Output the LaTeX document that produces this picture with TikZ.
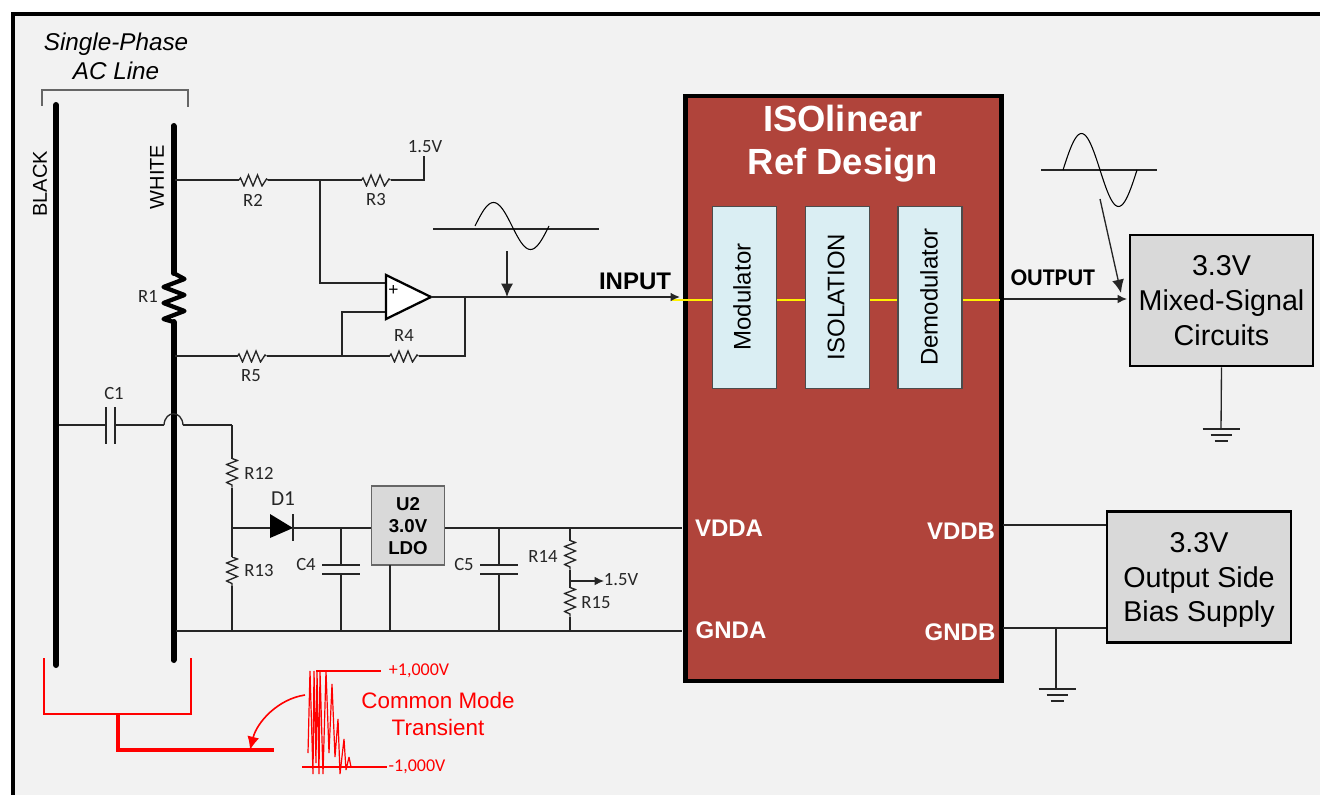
\documentclass[tikz,border=0pt]{standalone}
\usepackage{fontspec}
\setmainfont{Liberation Sans}
\newfontfamily\calfont{Carlito}
\usepackage{xcolor}
\usetikzlibrary{arrows.meta}
\definecolor{isored}{HTML}{B0443B}
\definecolor{isoblue}{HTML}{DAEEF3}
\definecolor{boxgray}{HTML}{D9D9D9}
\definecolor{panelgray}{HTML}{F2F2F2}
\begin{document}
\begin{tikzpicture}[
x=0.75pt, y=-0.75pt,
wire/.style={line width=1pt,color=black!85},
line/.style={line width=4.5pt,line cap=round},
tipwire/.style={wire,-{Latex[length=7pt,width=6.5pt]}},
bigtip/.style={wire,-{Latex[length=10pt,width=9pt]}},
redwire/.style={line width=1.2pt,color=red},
reswide/.style={minimum width=29*0.75pt,minimum height=13*0.75pt,inner sep=0pt,outer sep=0pt,
	path picture={\draw[wire] (path picture bounding box.west) -- ++(1.5,-2) -- ++(3.5,8) -- ++(4.5,-11) -- ++(4.5,11) -- ++(4.5,-11) -- ++(4.5,11) -- ++(4.5,-7) -- (path picture bounding box.east);}},
restall/.style={minimum width=13*0.75pt,minimum height=29*0.75pt,inner sep=0pt,outer sep=0pt,
	path picture={\draw[wire] (path picture bounding box.north) -- ++(5.5,2) -- ++(-11,4) -- ++(11,4.5) -- ++(-11,4.5) -- ++(11,4.5) -- ++(-11,4.5) -- ++(5.5,2.5) -- (path picture bounding box.south);}},
lab/.style={font=\calfont\fontsize{14}{14}\selectfont,text=black!85,inner sep=0pt},
pin/.style={font=\bfseries\fontsize{18}{18}\selectfont,text=white,inner sep=0pt},
block/.style={draw=black,line width=1.9pt,fill=boxgray,align=center,inner sep=0pt,text depth=0pt,font=\fontsize{21.5}{26}\selectfont},
stage/.style={draw=black!70,line width=0.8pt,fill=isoblue,minimum width=64*0.75pt,minimum height=182*0.75pt,inner sep=0pt},
stagetext/.style={rotate=90,font=\fontsize{18}{18}\selectfont,inner sep=0pt},
redtext/.style={text=red,inner sep=0pt,align=center}
]
\useasboundingbox (0,0) rectangle (1320,795);
\clip (0,0) rectangle (1320,795);
\draw[line width=3.2pt,fill=panelgray] (13,14) rectangle (1340,815);

% AC line
\node (singlephase) at (116,56) [align=center,inner sep=0pt,font=\itshape\fontsize{18.2}{22}\selectfont] {Single-Phase\\AC Line};
\draw[line width=0.9pt,color=black!60] (42,106) -- (42,90) -- (188,90) -- (188,107);
\coordinate (blacktop) at (56,105);
\coordinate (blackbot) at (56,665);
\coordinate (whitetop) at (173.5,126);
\coordinate (whitebot) at (173.5,660);
\coordinate (rone) at (173.5,273);
\coordinate (ronebot) at (173.5,322);
\draw[line] (blacktop) -- (blackbot);
\draw[line] (rone) -- (whitetop);
\draw[line] (ronebot) -- (whitebot);
\draw[line width=3.2pt,line join=round] (rone) -- ++(11,6) -- ++(-21,8) -- ++(21,8) -- ++(-21,8) -- ++(21,8) -- ++(-21,8) -- (ronebot);
\node (blacklab) at (40,184) [rotate=90,inner sep=0pt,font=\fontsize{15}{15}\selectfont] {BLACK};
\node (whitelab) at (157,177) [rotate=90,inner sep=0pt,font=\fontsize{15}{15}\selectfont] {WHITE};
\node (ronelab) at (148,296) [lab] {R1};

% input network
\coordinate (wtwo) at (175,180);
\coordinate (wfive) at (175,356);
\coordinate (plusjoin) at (320,180);
\coordinate (fbjoin) at (342,356);
\coordinate (vref) at (424,156);
\coordinate (opout) at (431,297);
\coordinate (fbout) at (465,297);
\node (rtwo) at (253.5,180) [reswide] {};
\node (rthree) at (376,180) [reswide] {};
\node (rfive) at (252,356) [reswide] {};
\node (rfour) at (404,356) [reswide] {};
\node (rtwolab) at (253,200) [lab] {R2};
\node (rthreelab) at (376,200) [lab] {R3};
\node (rfourlab) at (404,336) [lab] {R4};
\node (rfivelab) at (251,376) [lab] {R5};
\node (vreflab) at (425,147) [lab] {1.5V};
\draw[wire] (wtwo) -- (rtwo.west);
\draw[wire] (rtwo.east) -- (rthree.west);
\draw[wire] (rthree.east) -| (vref);
\draw[wire] (wfive) -- (rfive.west);
\draw[wire] (rfive.east) -- (rfour.west);
\draw[wire] (rfour.east) -| (fbout);
\coordinate (opplus) at (386,283);
\coordinate (opminus) at (386,312);
\draw[wire] (plusjoin) |- (opplus);
\draw[wire] (fbjoin) |- (opminus);
\draw[line width=1.7pt,fill=white,line join=miter] (386,275) -- (opout) -- (386,319) -- cycle;
\node (opsign) at (393.5,290) [inner sep=0pt,font=\fontsize{13}{13}\selectfont] {+};

% isolator
\node (iso) at (843.5,388.5) [draw=black,line width=3.2pt,fill=isored,minimum width=316*0.75pt,minimum height=585*0.75pt,inner sep=0pt] {};
\coordinate (yelin) at (672,300);
\coordinate (yelout) at (1000,300);
\draw[line width=0.8pt,color=yellow] (yelin) -- (yelout);
\node (isotitle) at (843,144) [align=center,inner sep=0pt,text=white,font=\bfseries\fontsize{27.3}{32}\selectfont] {ISOlinear\\Ref Design};
\node (modbox) at (744.5,297.5) [stage] {};
\node (isobox) at (837.5,297.5) [stage] {};
\node (dembox) at (930,297.5) [stage] {};
\node (modlab) at (742,297) [stagetext] {Modulator};
\node (isolab) at (836,297) [stagetext] {ISOLATION};
\node (demlab) at (929,297) [stagetext] {Demodulator};
\node (vdda) at (729,528) [pin] {VDDA};
\node (gnda) at (731,630) [pin] {GNDA};
\node (vddb) at (961,531) [pin] {VDDB};
\node (gndb) at (960,632) [pin] {GNDB};

% input signal
\coordinate (inend) at (680,297);
\draw[tipwire,line width=1.3pt] (opout) -- (inend);
\node (inputlab) at (635,281) [inner sep=0pt,font=\bfseries\fontsize{18}{18}\selectfont] {INPUT};
\coordinate (insinea) at (433,229);
\coordinate (insineb) at (599,229);
\coordinate (intip) at (507,297);
\coordinate (intail) at (507,251);
\draw[wire] (insinea) -- (insineb);
\draw[line width=0.8pt] plot[domain=0:360,samples=49,smooth] ({475+\x/360*74},{226-23.5*sin(\x)});
\draw[bigtip] (intail) -- (intip);

% output side
\node (mixed) at (1221.5,300.5) [block,minimum width=183*0.75pt,minimum height=131*0.75pt] {3.3V\\Mixed-Signal\\Circuits};
\node (bias) at (1199,577) [block,minimum width=184*0.75pt,minimum height=131*0.75pt] {3.3V\\Output Side\\Bias Supply};
\node (outputlab) at (1053,278) [inner sep=0pt,font=\calfont\bfseries\fontsize{18}{18}\selectfont] {OUTPUT};
\coordinate (outstart) at (1004,299);
\coordinate (outend) at (1127,299);
\draw[tipwire] (outstart) -- (outend);
\coordinate (outsinea) at (1041,170);
\coordinate (outsineb) at (1157,170);
\coordinate (outtail) at (1100,199);
\coordinate (outtip) at (1121,293);
\draw[wire] (outsinea) -- (outsineb);
\draw[line width=0.8pt] plot[domain=0:360,samples=49,smooth] ({1063+\x/360*74},{170-36.5*sin(\x)});
\draw[bigtip] (outtail) -- (outtip);
\coordinate (gndmixed) at (1221,429);
\coordinate (gndbias) at (1057,689);
\draw[wire] (mixed.south) -- (gndmixed);
\draw[wire] (gndmixed) ++(-18.5,0) -- ++(37,0) ++(-29,6) -- ++(21,0) ++(-17,6) -- ++(13,0);
\draw[wire] (gndbias) ++(-18.5,0) -- ++(37,0) ++(-29,6) -- ++(21,0) ++(-17,6) -- ++(13,0);
\coordinate (vddbout) at (1003,525);
\coordinate (gndbout) at (1003,628);
\coordinate (gndjoin) at (1056,628);
\coordinate (biasv) at (bias.west |- vddbout);
\coordinate (biasg) at (bias.west |- gndbout);
\draw[wire] (vddbout) -- (biasv);
\draw[wire] (gndbout) -- (biasg);
\draw[wire] (gndjoin) -- (gndbias -| gndjoin);

% supply
\coordinate (conea) at (59,425);
\coordinate (coneb) at (164,425);
\coordinate (conec) at (183,425);
\coordinate (rtop) at (232,425);
\coordinate (djoin) at (232,528);
\coordinate (gleft) at (176,631);
\coordinate (gright) at (682,631);
\coordinate (vright) at (682,528);
\draw[wire] (conea) -- (106,425);
\draw[wire] (115,425) -- (coneb);
\draw[wire] (106,407) -- (106,444);
\draw[wire] (115,407) -- (115,444);
\draw[wire] (coneb) .. controls (165,410) and (182,410) .. (conec);
\draw[wire] (conec) -- (rtop);
\node (conelab) at (114,394) [lab] {C1};
\node (rtwelve) at (232,473) [restall] {};
\node (rthirteen) at (232,571.5) [restall] {};
\node (rtwelvelab) at (259,473) [lab] {R12};
\node (rthirteenlab) at (259,571) [lab] {R13};
\draw[wire] (rtop) -- (rtwelve.north);
\draw[wire] (rtwelve.south) -- (rthirteen.north);
\draw[wire] (rthirteen.south) -- (232,631);
\draw[wire] (gleft) -- (gright);
\coordinate (dan) at (270,528);
\coordinate (dca) at (293,528);
\draw[wire] (djoin) -- (dan);
\fill (270,514) -- (dca) -- (270,538) -- cycle;
\draw[wire] (293,514) -- (293,541);
\node (donelab) at (283,499) [lab,font=\calfont\fontsize{16}{16}\selectfont] {D1};
\node (ldo) at (408,525.5) [block,draw=black!60,line width=0.8pt,minimum width=73*0.75pt,minimum height=79*0.75pt,font=\bfseries\fontsize{14}{16.5}\selectfont] {U2\\3.0V\\LDO};
\coordinate (ldogate) at (390,565);
\draw[wire] (dca) -- (ldo.west |- dca);
\draw[wire] (ldo.east |- vright) -- (vright);
\draw[wire] (ldogate) -- (390,631);
\foreach \capx/\capname in {341/C4,499/C5} {
	\draw[wire] (\capx,528) -- (\capx,565);
	\draw[wire] (\capx,574) -- (\capx,631);
	\draw[wire] (\capx-19,565) -- ++(38,0);
	\draw[wire] (\capx-19,574) -- ++(38,0);
	\node (lab\capname) at (\capx-35,565) [lab] {\capname};
}
\node (rfourteen) at (570,555) [restall] {};
\node (rfifteen) at (570,602) [restall] {};
\node (rfourteenlab) at (543,556) [lab] {R14};
\node (rfifteenlab) at (596,603) [lab] {R15};
\coordinate (dividertop) at (570,528);
\coordinate (dividerbot) at (570,631);
\coordinate (dividermid) at (570,581);
\coordinate (dividertip) at (604,581);
\draw[wire] (dividertop) -- (rfourteen.north);
\draw[wire] (rfourteen.south) -- (rfifteen.north);
\draw[wire] (rfifteen.south) -- (dividerbot);
\draw[tipwire] (dividermid) -- (dividertip);
\node (dividerlab) at (621,580) [lab] {1.5V};

% common mode transient
\coordinate (clampa) at (44,658);
\coordinate (clampb) at (191,658);
\coordinate (clampjoin) at (118,714);
\coordinate (railend) at (274,750);
\draw[redwire] (clampa) |- (clampb |- clampjoin) -- (clampb);
\draw[red,line width=2.4pt,line join=miter] (clampjoin) |- (railend);
\coordinate (waveleft) at (305,695);
\coordinate (wavetip) at (250,750);
\draw[redwire,-{Latex[length=10pt,width=9pt]}] (waveleft) .. controls (278,699) and (257,722) .. (wavetip);
\draw[red,line width=0.9pt,line join=bevel] (308,753) -- (310,671) -- (313,774) -- (314,671) -- (316,763) -- (317,671) -- (319,774) -- (320,671) -- (323,774) -- (326,671) -- (329,753) -- (332,684) -- (335,757) -- (338,719) -- (340,774) -- (344,739) -- (346,770) -- (349,757) -- (351,767);
\coordinate (topa) at (316,671);
\coordinate (topb) at (381,671);
\coordinate (bota) at (302,767);
\coordinate (botb) at (387,767);
\draw[red,line width=1.5pt] (topa) -- (topb);
\draw[redwire] (bota) -- (botb);
\node (pluslab) at (419,671) [redtext,font=\calfont\fontsize{13.5}{13.5}\selectfont] {+1,000V};
\node (minuslab) at (417,767) [redtext,font=\calfont\fontsize{13.5}{13.5}\selectfont] {-1,000V};
\node (commonlab) at (438,714) [redtext,font=\fontsize{16.8}{20}\selectfont] {Common Mode\\Transient};
\end{tikzpicture}
\end{document}
